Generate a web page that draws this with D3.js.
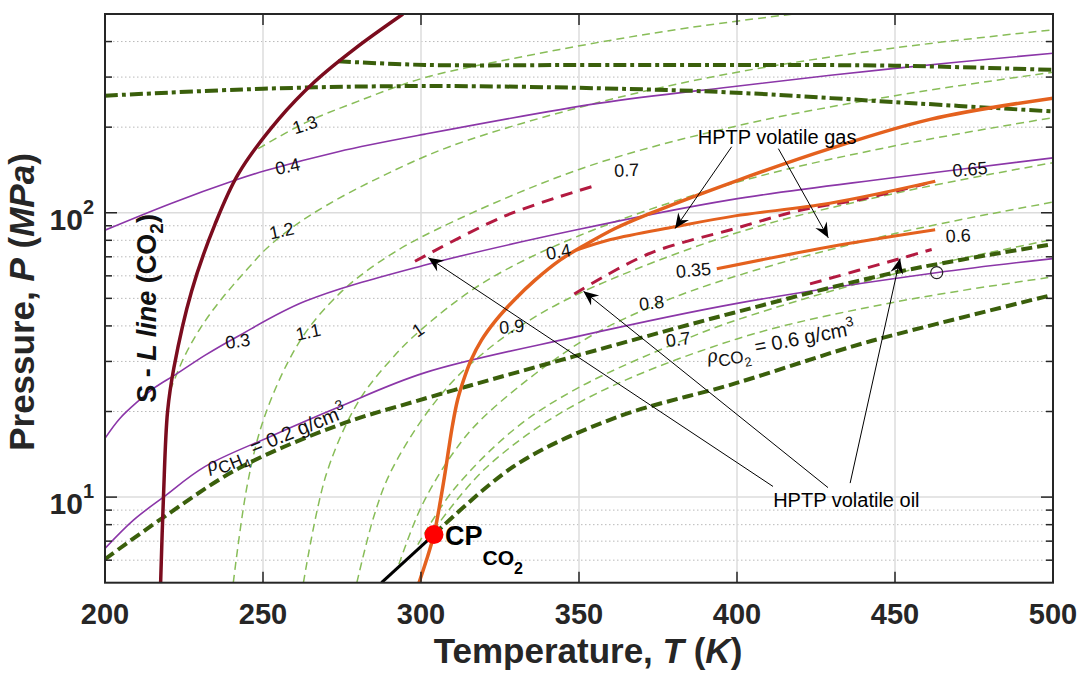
<!DOCTYPE html>
<html>
<head>
<meta charset="utf-8">
<script src="https://cdn.jsdelivr.net/npm/d3@7"></script>
<style>
body { margin: 0; background: #fff; }
svg { display: block; }
text { font-family: "Liberation Sans", Arial, Helvetica, sans-serif; }
</style>
</head>
<body>
<svg id="chart" width="1088" height="685"></svg>
<script>
// ---- data (T in K, P in MPa) ----
var xTicks = [200, 250, 300, 350, 400, 450, 500];
var yMajor = [10, 100];
var yMinor = [6, 7, 8, 9, 20, 30, 40, 50, 60, 70, 80, 90, 200, 300, 400];

// solid-liquid line of CO2
var slLine = [[217.6,5],[218.5,10],[219.8,20],[221.8,28.5],[227.4,53],[234.8,91],[242.2,137],[254.9,213],[266.5,290],[279.1,378],[294.3,500]];
// CO2 vapour pressure up to the critical point
var satLine = [[287.5,5],[304.1,7.38]];
var cpCO2 = [304.1, 7.38];

// CO2 isochores (light green), g/cm3
var co2_13 = [[248.5,168],[263.3,207],[280.2,247],[301.3,299],[330,350],[356.6,398],[385,448],[417.7,500]];
var co2_12 = [[220.6,23.7],[225,31],[230,39],[236.4,49],[245.4,64],[251.2,75],[260,90],[270,106],[285,130],[309.2,171],[356.6,245],[400,312],[450,380],[500,440]];
var co2_11 = [[240.6,5],[245,11],[250,18.5],[258,30],[265,40],[275,53],[285,65],[300,82],[350,142],[400,202],[450,258],[500,312]];
var co2_10 = [[262.8,5],[270,12],[280,21.5],[290,30],[299.7,38.5],[320,57],[350,83],[400,128],[450,172],[500,216]];
var co2_09 = [[279.7,5],[285,8.5],[290,12],[300,18.5],[310,25.5],[320,32.3],[330.4,39.3],[350,52],[400,85],[450,117],[500,150]];
var co2_08 = [[293,5.8],[300,9.2],[310,14.2],[320,19.2],[350,34.8],[374,47.3],[400,60],[450,84.5],[500,109]];
var co2_07 = [[299,6.8],[310,10.5],[330,17.5],[350,24.3],[381.3,35],[400,42],[450,61],[500,80.5]];
var co2_065 = [[301.5,7.0],[320,12.5],[350,21.5],[400,36],[450,48.5],[500,59.5]];
// CO2 = 0.6 g/cm3 (dark green)
var co2_06 = [[304.1,7.38],[329.7,12.9],[361.4,19],[399.4,25.1],[435.8,33.7],[450.5,37.4],[500,51.5]];

// CH4 isochores (purple)
var ch4_04 = [[200,86.8],[221.1,108],[241.1,130],[250.6,140.5],[273.8,164],[301.3,189],[356.6,243],[397.8,277],[450,322],[500,364]];
var ch4_03 = [[200,16.1],[204.7,18.9],[210.4,21.7],[215.8,24.3],[222.2,26.9],[231.6,31.5],[242.1,36.8],[263.3,48.8],[301.3,65.5],[348.9,86.9],[397.8,111],[450,133],[500,156]];
var ch4_02 = [[200,6.6],[209,8.3],[218.5,10],[231.6,12.8],[252.7,16.4],[273.8,20.7],[301.3,27.4],[348.9,36.6],[400,48],[463,61.5],[500,69]];
// dark green dashed, rho CH4 = 0.2
var ch4Dark = [[200,6.05],[217.9,8.4],[242.2,12.6],[273.8,17.9],[298.1,21.7],[348.7,31.3],[399,44.5],[451,62],[500,77.5]];
// dark green dash-dot, high pressure
var upper1 = [[200,258],[250,273],[300,279],[356.6,274],[397.8,265],[450,245],[500,227]];
var upper2 = [[273.8,341],[301.3,331],[356.6,331],[400,331],[450,329],[500,318]];

// HPTP fluids (orange) and volatile oil (crimson dashed)
var orangeMain = [[299.37,5],[301.68,5.98],[304.11,7.39],[306.17,9.74],[307.75,12.42],[308.7,14.6],[309.97,17.89],[311.55,21.9],[313.45,25.76],[315.82,30.29],[319.15,35.63],[323.73,41.9],[329.43,49.27],[336.08,57.94],[343.99,68.15],[351.27,76.33],[361.4,88],[371.9,98.8],[399.4,129],[429.4,168],[461.1,213],[500,253]];
var orangeBranch = [[349.2,73.9],[360,80.5],[380.4,89.3],[399.4,97.5],[429.4,108],[462.7,129]];
var orangeShort = [[393.6,63.5],[429.4,75.9],[462.7,87.1]];
var oilA = [[298.1,67.5],[326.6,97.5],[355.6,125]];
var oilB = [[348.5,51.8],[371.9,71.6],[399.4,88],[420,102],[440,112],[462.7,129]];
var oilC = [[423.1,56.2],[451.6,69],[461.6,74.3]];
var openMark = [463.2, 61.6];

// contour / curve labels: [text, T, P, angle]
var curveLabels = [
  ["1.3", 263.3, 203.6, -18], ["0.4", 257.8, 145.3, -12], ["1.2", 255.9, 86.3, -12],
  ["0.3", 242.0, 35.3, -8], ["1.1", 264.3, 38.0, -12], ["1", 299.1, 38.6, -35],
  ["0.9", 328.7, 39.7, -5], ["0.4", 343.5, 72.8, -10], ["0.35", 386.2, 62.7, -5],
  ["0.8", 373.0, 48.1, -6], ["0.7", 381.4, 35.8, -8], ["0.7", 365.1, 140.9, -3],
  ["0.65", 473.7, 141.9, -5], ["0.6", 470.0, 82.9, -3]
];
// annotation arrows: [T0, P0, T1, P1] (tail -> head)
var gasArrows = [[398.3,170.6,380.4,88],[413.1,168,428.9,81.6]];
var oilArrows = [[411.4,10.9,302.3,69.5],[428.8,10.8,351.4,53.0],[435.8,11.2,451.6,69.0]];

// ---- layout ----
var svg = d3.select("#chart");
var L = 105, R = 1053, T = 14, B = 582.7;
svg.append("rect").attr("width", 1088).attr("height", 685).attr("fill", "#fff");

var x = d3.scaleLinear().domain([200, 500]).range([L, R]);
var y = d3.scaleLog().domain([5, 500]).range([B, T]);

var defs = svg.append("defs");
defs.append("clipPath").attr("id", "clip")
  .append("rect").attr("x", L).attr("y", T).attr("width", R - L).attr("height", B - T);
defs.append("marker").attr("id", "ah")
  .attr("viewBox", "-16 -8 18 16").attr("refX", 0).attr("refY", 0)
  .attr("markerWidth", 18).attr("markerHeight", 16)
  .attr("markerUnits", "userSpaceOnUse").attr("orient", "auto")
  .append("path").attr("d", "M0,0 L-15,-6.5 L-10,0 L-15,6.5 Z").attr("fill", "#000");

// grid
var grid = svg.append("g");
grid.selectAll(".gm").data(yMinor).enter().append("line")
  .attr("x1", L).attr("x2", R).attr("y1", d => y(d)).attr("y2", d => y(d))
  .attr("stroke", "#b9b9b9").attr("stroke-width", 1).attr("stroke-dasharray", "1.5,2.5");
grid.selectAll(".gM").data(yMajor).enter().append("line")
  .attr("x1", L).attr("x2", R).attr("y1", d => y(d)).attr("y2", d => y(d))
  .attr("stroke", "#dcdcdc").attr("stroke-width", 1.5);
grid.selectAll(".gx").data(xTicks.slice(1, -1)).enter().append("line")
  .attr("y1", T).attr("y2", B).attr("x1", d => x(d)).attr("x2", d => x(d))
  .attr("stroke", "#dcdcdc").attr("stroke-width", 1.5);

var line = d3.line().x(d => x(d[0])).y(d => y(d[1])).curve(d3.curveCatmullRom.alpha(0.5));
var plot = svg.append("g").attr("clip-path", "url(#clip)");

function draw(data, color, width, dash) {
  plot.append("path").datum(data).attr("d", line)
    .attr("fill", "none").attr("stroke", color).attr("stroke-width", width)
    .attr("stroke-dasharray", dash || null).attr("stroke-linecap", "butt");
}

var lightGreen = "#88bd58", darkGreen = "#3a5f0b", purple = "#8b36a8",
    orange = "#e4611e", crimson = "#b31a40", maroon = "#7b0c1e";

[co2_13, co2_12, co2_11, co2_10, co2_09, co2_08, co2_07, co2_065].forEach(function (c) {
  draw(c, lightGreen, 1.5, "8,5");
});
[ch4_04, ch4_03, ch4_02].forEach(function (c) { draw(c, purple, 1.6); });
draw(ch4Dark, darkGreen, 4, "11,5");
draw(co2_06, darkGreen, 4, "11,5");
draw(upper1, darkGreen, 4, "13,4,4,4");
draw(upper2, darkGreen, 4, "13,4,4,4");
draw(oilA, crimson, 3, "12,8");
draw(oilB, crimson, 3, "12,8");
draw(oilC, crimson, 3, "12,8");
draw(orangeBranch, orange, 3);
draw(orangeShort, orange, 3);
draw(orangeMain, orange, 3.5);
draw(slLine, maroon, 3.5);
draw(satLine, "#000", 3);

plot.append("circle").attr("cx", x(openMark[0])).attr("cy", y(openMark[1])).attr("r", 6)
  .attr("fill", "none").attr("stroke", "#222").attr("stroke-width", 1.2);
plot.append("circle").attr("cx", x(cpCO2[0])).attr("cy", y(cpCO2[1])).attr("r", 9.5).attr("fill", "#ff0000");

// curve labels
svg.append("g").selectAll("text").data(curveLabels).enter().append("text")
  .attr("transform", d => "translate(" + x(d[1]) + "," + y(d[2]) + ") rotate(" + d[3] + ")")
  .attr("text-anchor", "middle").attr("dominant-baseline", "central")
  .attr("font-size", 18).attr("fill", "#111").text(d => d[0]);

// arrows
var arrows = svg.append("g");
gasArrows.concat(oilArrows).forEach(function (a) {
  arrows.append("line").attr("x1", x(a[0])).attr("y1", y(a[1])).attr("x2", x(a[2])).attr("y2", y(a[3]))
    .attr("stroke", "#000").attr("stroke-width", 1).attr("marker-end", "url(#ah)");
});
svg.append("text").attr("x", x(412.7)).attr("y", y(184.7)).attr("text-anchor", "middle")
  .attr("dominant-baseline", "central").attr("font-size", 20).text("HPTP volatile gas");
svg.append("text").attr("x", x(434.6)).attr("y", y(9.74)).attr("text-anchor", "middle")
  .attr("dominant-baseline", "central").attr("font-size", 20).text("HPTP volatile oil");

// rho labels
var rc = svg.append("text").attr("font-size", 20).attr("fill", "#111")
  .attr("transform", "translate(" + x(232.9) + "," + y(12.2) + ") rotate(-22)");
rc.append("tspan").attr("font-style", "italic").attr("font-family", "DejaVu Serif").attr("font-size", 18).text("ρ");
rc.append("tspan").attr("dy", 6).attr("font-size", 17).text("CH");
rc.append("tspan").attr("dy", 5).attr("font-size", 13).text("4");
rc.append("tspan").attr("dy", -11).text(" = 0.2 g/cm");
rc.append("tspan").attr("dy", -9).attr("font-size", 14).text("3");

var ro = svg.append("text").attr("font-size", 20).attr("fill", "#111")
  .attr("transform", "translate(" + x(390.8) + "," + y(29.6) + ") rotate(-11)");
ro.append("tspan").attr("font-style", "italic").attr("font-family", "DejaVu Serif").attr("font-size", 18).text("ρ");
ro.append("tspan").attr("dy", 6).attr("font-size", 17).text("CO");
ro.append("tspan").attr("dy", 5).attr("font-size", 13).text("2");
ro.append("tspan").attr("dy", -11).text(" = 0.6 g/cm");
ro.append("tspan").attr("dy", -9).attr("font-size", 14).text("3");

// S-L label
var sl = svg.append("text").attr("font-size", 27).attr("font-weight", "bold").attr("fill", "#111")
  .attr("text-anchor", "middle")
  .attr("transform", "translate(" + (x(213.6) + 8) + "," + y(46.1) + ") rotate(-90)");
sl.append("tspan").text("S - ");
sl.append("tspan").attr("font-style", "italic").text("L line");
sl.append("tspan").text(" (CO");
sl.append("tspan").attr("dy", 7).attr("font-size", 19).text("2");
sl.append("tspan").attr("dy", -7).text(")");

// CP label
var cp = svg.append("text").attr("x", x(307.9) - 1).attr("y", y(6.76)).attr("font-weight", "bold")
  .attr("font-size", 27).attr("fill", "#000");
cp.append("tspan").text("CP");
cp.append("tspan").attr("dy", 20).attr("font-size", 21).text("CO");
cp.append("tspan").attr("dy", 9).attr("font-size", 16).text("2");

// frame and ticks
var ax = svg.append("g").attr("stroke", "#262626").attr("fill", "none");
ax.append("rect").attr("x", L).attr("y", T).attr("width", R - L).attr("height", B - T).attr("stroke-width", 2);
xTicks.forEach(function (t) {
  ax.append("line").attr("x1", x(t)).attr("x2", x(t)).attr("y1", B).attr("y2", B - 11).attr("stroke-width", 1.5);
  ax.append("line").attr("x1", x(t)).attr("x2", x(t)).attr("y1", T).attr("y2", T + 11).attr("stroke-width", 1.5);
});
yMajor.forEach(function (p) {
  ax.append("line").attr("x1", L).attr("x2", L + 12).attr("y1", y(p)).attr("y2", y(p)).attr("stroke-width", 1.5);
  ax.append("line").attr("x1", R).attr("x2", R - 12).attr("y1", y(p)).attr("y2", y(p)).attr("stroke-width", 1.5);
});
yMinor.forEach(function (p) {
  ax.append("line").attr("x1", L).attr("x2", L + 7).attr("y1", y(p)).attr("y2", y(p)).attr("stroke-width", 1.5);
  ax.append("line").attr("x1", R).attr("x2", R - 7).attr("y1", y(p)).attr("y2", y(p)).attr("stroke-width", 1.5);
});

// tick labels
svg.append("g").selectAll("text").data(xTicks).enter().append("text")
  .attr("x", d => x(d)).attr("y", 624).attr("text-anchor", "middle")
  .attr("font-size", 29).attr("font-weight", "bold").attr("fill", "#262626").text(d => d);
var yl = svg.append("g").selectAll("text").data(yMajor).enter().append("text")
  .attr("x", 94).attr("y", d => y(d) + 17).attr("text-anchor", "end")
  .attr("font-size", 30).attr("font-weight", "bold").attr("fill", "#262626");
yl.append("tspan").text("10");
yl.append("tspan").attr("dy", -16).attr("font-size", 20).text(d => Math.round(Math.log10(d)));

// axis titles
var xt = svg.append("text").attr("x", 588).attr("y", 663).attr("text-anchor", "middle")
  .attr("font-size", 35).attr("font-weight", "bold").attr("fill", "#262626");
xt.append("tspan").text("Temperature, ");
xt.append("tspan").attr("font-style", "italic").text("T");
xt.append("tspan").text(" (");
xt.append("tspan").attr("font-style", "italic").text("K");
xt.append("tspan").text(")");

var yt = svg.append("text").attr("transform", "translate(34,302) rotate(-90)").attr("text-anchor", "middle")
  .attr("font-size", 35).attr("font-weight", "bold").attr("fill", "#262626");
yt.append("tspan").text("Pressure, ");
yt.append("tspan").attr("font-style", "italic").text("P");
yt.append("tspan").text(" (");
yt.append("tspan").attr("font-style", "italic").text("MPa");
yt.append("tspan").text(")");
</script>
</body>
</html>
